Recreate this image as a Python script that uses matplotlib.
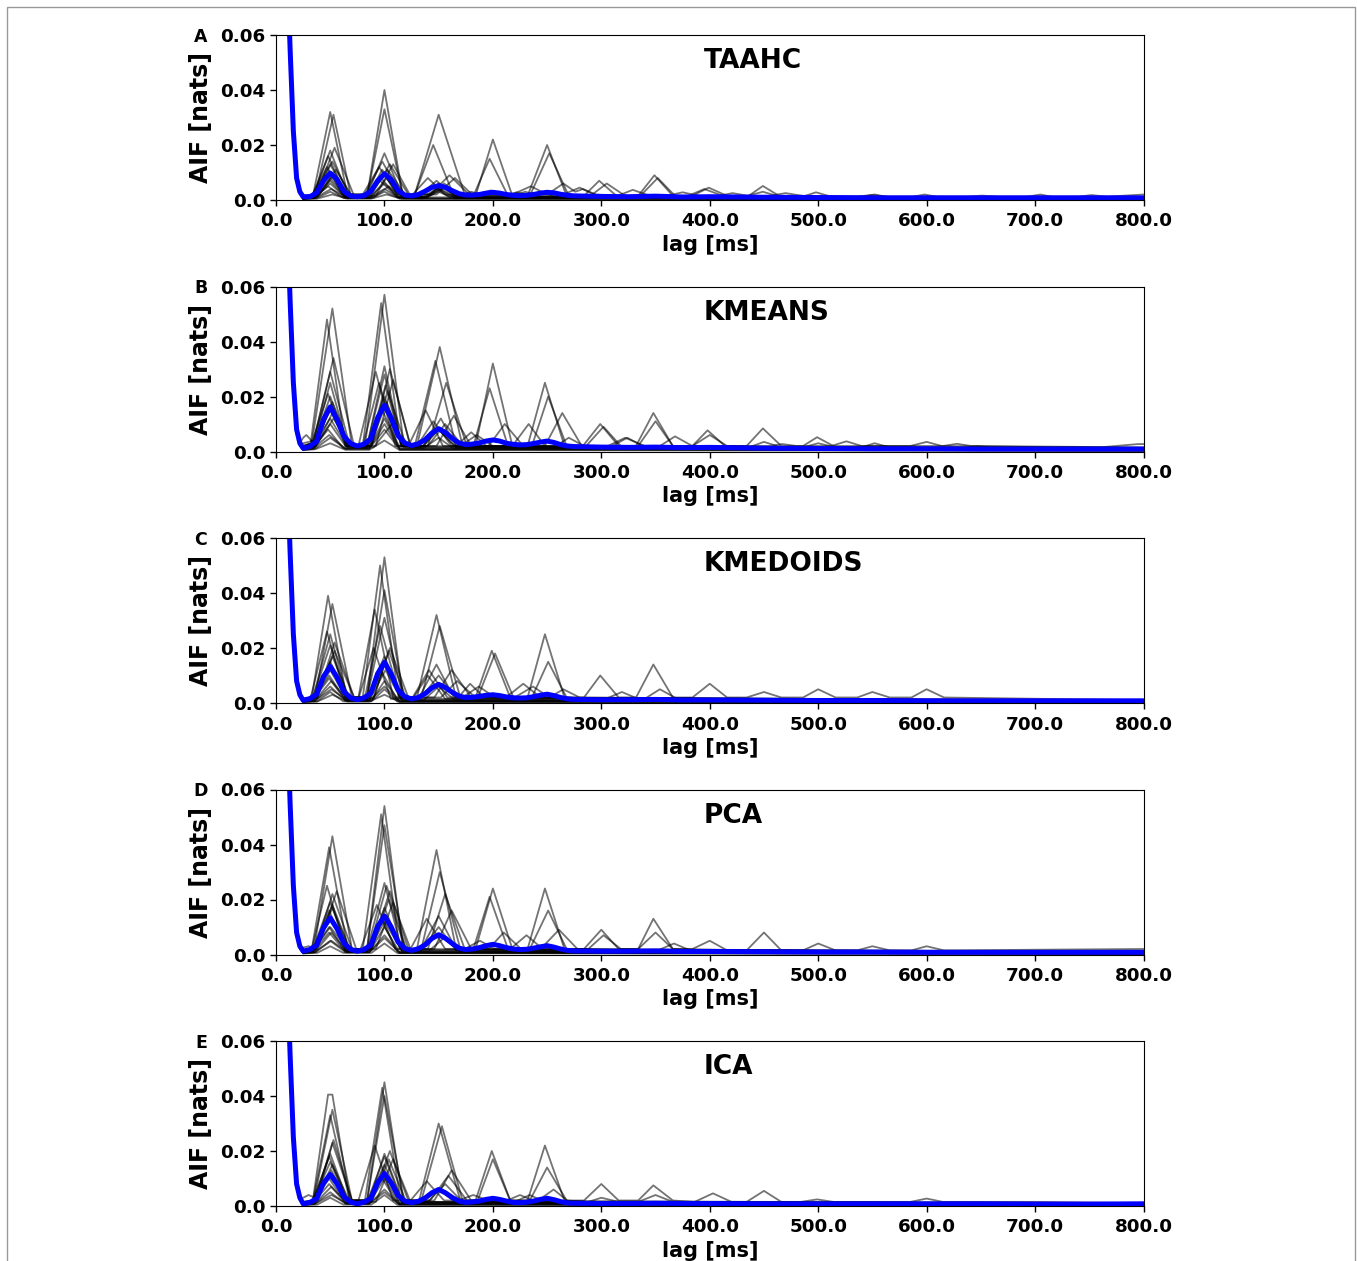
import numpy as np
import matplotlib
matplotlib.use('Agg')
import matplotlib.pyplot as plt
from matplotlib.patches import Rectangle
from matplotlib.ticker import FuncFormatter

plt.rcParams.update({
    'font.family': 'DejaVu Sans',
    'font.weight': 'bold',
    'axes.labelweight': 'bold',
})

# all curves are "lag_ms:value" vertices, value in 1e-3 nats
HEAD = "0:500 10:90 13:55 16:25 19:8 22:3"

A_LINES = [
    "25:1 34:1.5 50:32 66:1.5 84:1.5 100:40 117:1.5 128:2 150:31 174:2 184:1.5 200:22 218:1.5 232:1.5 250:20 268:1.5 284:1.5 298:7 314:1.5 334:1.5 349:9 366:1.5 380:1.5 395:4 412:1.5 430:1 449:3 466:1 800:0.8",
    "25:1 36:1.5 53:31 69:1.5 84:1.5 100:33 117:1.5 128:2 145:20 164:1.5 182:1.5 197:15 214:1.5 234:1.5 252:17 270:1.5 290:1.5 305:6 322:1.5 336:1.5 352:8 368:1.5 384:1.5 399:4.5 416:1.5 434:1 449:5.1 466:1 484:1 498:2.8 514:1 800:1",
    "25:1.5 37:2 54:19 72:1.5 88:2 105:13 122:2 142:2 160:9 178:2 218:2 235:5 250:2 265:6 276:3 283:4 295:2 315:1.5 329:3.7 345:1.5 360:1.5 375:2.8 390:1.5 408:1.5 421:2.5 436:1.5 455:1.5 470:2.5 486:1.5 535:1.2 549:1.8 565:1.2 637:1.2 651:1.6 668:1.2 740:1.2 752:1.8 766:1.2 800:2",
    "25:1.2 35:2 50:18 66:2 80:2 95:12 112:2 126:2 140:8 156:2 168:1.5 180:3 192:1.5 210:1.5 222:2.8 236:1.5 262:1.5 280:4.5 296:1.5 540:1.2 552:2 565:1 585:1 598:2 612:1 690:1 705:2 718:1 800:1",
    "25:1 34:2 48:16 64:2 84:2 100:17 116:2 134:1.5 150:6 166:1.5 186:1.5 200:3 214:1.2 800:0.6",
    "25:1 36:2 52:14 68:2 82:2 98:14 115:2 148:2 165:8 182:1.5 218:1.5 230:3 244:1.2 800:0.6",
    "25:0.8 34:1.5 50:13 66:1.5 86:1.5 103:11 120:1.5 132:1.5 148:7 164:1.5 186:1.5 198:3.5 212:1.2 232:1.2 245:3 258:1 800:0.5",
    "25:0.8 33:1.5 47:12 62:1.5 84:1.5 100:10 116:1.5 136:1.2 152:5 168:1 800:0.4",
    "25:0.6 39:1.5 55:11 70:1.5 92:1.5 108:13 124:1.5 139:1 155:6 172:1 800:0.4",
    "25:0.6 35:1 50:8 65:1 83:1 97:8 112:1 130:1 145:5 160:1 800:0.3",
    "25:0.5 36:1 50:7 64:1 86:1 100:6 114:1 136:0.8 150:4 165:0.8 800:0.3",
    "25:0.5 35:0.8 48:5 62:0.8 86:0.8 100:4 114:0.8 136:0.6 150:3 164:0.6 800:0.2",
    "25:0.4 37:0.6 50:3 64:0.6 87:0.6 100:3 114:0.5 800:0.2",
    "25:0.3 38:0.5 52:2 66:0.5 88:0.5 102:2 116:0.4 800:0.2",
    "25:0.5 36:1 50:6 64:1 80:1 96:7 112:1 138:1 152:4 166:0.8 800:0.3",
    "25:0.7 38:1 53:9 68:1 84:1 98:11 113:1 140:1 156:5 172:1 800:0.4",
    "25:0.4 36:0.8 51:4 66:0.8 90:0.8 104:5 118:0.6 800:0.3",
    "25:0.6 36:1 50:10 64:1 88:1 102:8 116:1 800:0.4",
]
A_MEAN = ("0:500 10:90 13:55 16:25 19:8 22:3 25:1.2 31.25:1.2 37.5:2.6 43.75:7.0 50:9.8 56.25:7.5 62.5:3.2 68.75:1.5 "
          "75:1.2 81.25:1.6 87.5:3.2 93.75:7.0 100:9.5 106.25:7.4 112.5:3.5 118.75:1.8 125:1.5 131.25:2.0 137.5:3.2 "
          "143.75:4.6 150:5.2 156.25:4.6 162.5:3.4 168.75:2.3 175:1.8 181.25:1.8 187.5:2.0 193.75:2.5 200:2.8 206.25:2.5 "
          "212.5:2.0 218.75:1.7 225:1.6 231.25:1.7 237.5:2.0 243.75:2.5 250:2.8 256.25:2.6 262.5:2.1 268.75:1.7 275:1.5 "
          "300:1.3 325:1.2 350:1.4 375:1.1 400:1.2 450:1.0 500:0.9 550:0.8 600:0.8 650:0.8 700:0.8 750:0.8 800:0.8")

B_LINES = [
    "25:2 33:3 52:52 70:2 82:2 100:57 118:2 130:2 151:38 172:2 184:2 200:32 218:2 232:2 248:25 266:2 283:2 299:10 316:2 332:2 348:14 366:2 384:2 398:7.7 414:2 434:2 449:8.4 466:2 486:2 499:5.2 514:2 585:2 600:3.5 614:2 800:1.2",
    "25:2 32:3 47:48 64:2 80:2 97:54 115:2 128:2 147:33 166:2 182:2 197:23 214:2 236:2 251:20 268:2 286:2 302:9 318:2 334:2 350:11 366:2 384:2 400:6 416:2 436:1.5 450:3.5 466:1.5 486:1.5 500:3 516:1.5 800:1",
    "25:3 35:4 53:34 72:2 88:2 105:30 124:2 140:2 157:25 176:2 196:2 211:10 228:2 248:2 264:14 282:2 306:2 322:5 340:2 354:2 368:5.5 384:2 455:2 467:2.7 480:2 512:2 526:3.7 540:2 615:2 628:2.8 641:2 800:1.5",
    "25:2 34:3 50:29 68:2 76:2 92:29 110:2 122:2 138:15 154:2 170:2 185:6 200:2 218:2 233:10 248:2 258:2 270:5 284:2 310:2 324:5 338:2 540:1.5 552:3 566:1.5 635:1.5 647:1.9 660:1.5 720:1.5 736:1.6 760:1.5 795:2.7 800:2.7",
    "25:1.5 35:3 50:25 66:2 84:2 100:31 116:2 136:2 152:12 166:2 180:7 194:2 800:1",
    "25:1.5 33:3 48:21 64:2 84:2 100:28 116:2 148:2 164:13 180:2 800:1",
    "25:1.2 34:2 50:20 66:2 80:2 95:25 112:2 130:2 145:11 162:2 800:0.8",
    "25:1.2 36:2 52:18 68:2 88:2 103:22 120:2 136:2 150:8 166:1.5 800:0.8",
    "25:1 34:2 50:15 66:2 84:2 100:20 116:2 134:1.5 150:8 166:1.5 800:0.6",
    "25:1 36:1.5 53:12 70:1.5 86:1.5 102:18 118:1.5 800:0.6",
    "25:0.8 35:1.5 50:10 65:1.5 84:1.5 98:15 114:1.5 136:1.2 150:5 164:1 800:0.5",
    "25:0.8 34:1.2 48:8 62:1.2 86:1.2 100:12 114:1 800:0.4",
    "25:0.6 36:1 50:5 64:1 86:1 100:8 114:0.8 800:0.3",
    "25:0.5 36:0.8 50:3 64:0.6 86:0.6 100:4 114:0.5 800:0.2",
    "25:5 28:6 35:3 50:12 66:1.5 90:1.5 107:10 124:1.5 800:0.5",
    "25:1 36:2 51:17 66:2 86:2 101:24 116:2 140:2 156:10 172:2 800:0.8",
    "25:0.6 34:1 49:6 64:1 86:1 100:10 114:0.8 800:0.4",
    "25:1 37:2 52:14 68:2 92:2 108:26 124:2 800:0.6",
]
B_MEAN = ("0:500 10:90 13:55 16:25 19:8 22:3 25:1.2 31.25:1.8 37.5:3.7 43.75:11.6 50:16.2 56.25:11.7 62.5:5.6 68.75:2.9 "
          "75:2.0 81.25:2.7 87.5:4.7 93.75:12.3 100:16.8 106.25:12.2 112.5:5.8 118.75:3.1 125:2.2 131.25:2.8 137.5:4.3 "
          "143.75:6.7 150:8.3 156.25:6.9 162.5:4.8 168.75:3.1 175:2.5 181.25:2.7 187.5:3.1 193.75:3.8 200:4.2 206.25:3.8 "
          "212.5:3.0 218.75:2.6 225:2.4 231.25:2.5 237.5:2.9 243.75:3.4 250:3.8 256.25:3.3 262.5:2.5 268.75:2.0 275:1.8 "
          "300:1.6 325:1.5 350:1.6 375:1.4 400:1.5 450:1.2 500:1.1 550:1.0 600:1.0 650:0.9 700:0.9 750:0.9 800:0.9")

C_LINES = [
    "25:1.5 33:2 48:39 65:2 80:2 96:50 113:2 130:2 148:32 166:2 184:2 199:19 216:2 232:2 248:25 266:2 284:2 299:10 316:2 332:2 348:14 366:2 384:2 400:7 416:2 434:2 450:4 466:2 486:2 500:5 516:2 536:2 550:4 566:2 586:2 600:5 616:2 800:1",
    "25:1.5 36:2 52:36 70:2 84:2 100:53 117:2 134:2 151:28 170:2 186:2 202:18 219:2 236:2 251:15 268:2 304:1.5 319:4 334:1.5 340:1.5 354:5 370:1.5 800:1",
    "25:1.2 32:2 47:26 64:2 76:2 91:34 108:2 126:2 141:12 158:2 168:2 179:7 192:2 212:2 228:7 244:2 800:0.8",
    "25:1.5 38:2 54:22 72:2 84:2 100:41 118:2 146:2 162:12 180:2 800:0.8",
    "25:1.2 34:2 50:25 66:2 84:2 100:31 117:2 132:2 148:14 164:2 172:2 187:6 202:2 220:2 237:6 252:2 265:5 280:2 800:0.8",
    "25:1 34:2 50:21 66:2 82:2 96:28 114:2 134:2 150:10 166:2 800:0.7",
    "25:1 38:2 54:19 72:2 90:2 105:20 122:2 152:2 167:8 184:2 800:0.7",
    "25:1 34:1.5 50:15 66:1.5 76:1.5 90:20 106:1.5 126:1.5 140:10 156:1.5 800:0.6",
    "25:0.8 35:1.5 50:12 65:1.5 84:1.5 100:17 116:1.5 136:1 150:6 165:1 800:0.5",
    "25:0.8 34:1.2 49:10 64:1.2 86:1.2 100:15 116:1 800:0.4",
    "25:0.6 36:1 51:8 66:1 86:1 101:12 116:0.8 800:0.4",
    "25:0.5 36:0.8 50:6 64:0.8 88:0.8 100:8 114:0.6 800:0.3",
    "25:0.4 38:0.6 50:4 62:0.6 88:0.6 100:5 112:0.5 800:0.2",
    "25:0.3 38:0.5 52:3 66:0.5 86:0.5 100:3 114:0.4 800:0.2",
    "25:0.8 36:1.5 52:17 68:1.5 90:1.5 104:19 120:1.5 800:0.6",
    "25:0.6 34:1 49:9 64:1 84:1 98:11 112:1 800:0.4",
    "25:0.4 36:0.8 51:5 66:0.8 86:0.8 100:6 114:0.5 800:0.3",
]
C_MEAN = ("0:500 10:90 13:55 16:25 19:8 22:3 25:1.0 31.25:1.6 37.5:3.2 43.75:9.6 50:13.3 56.25:9.4 62.5:4.2 68.75:1.9 "
          "75:1.2 81.25:1.9 87.5:3.6 93.75:10.7 100:14.8 106.25:10.5 112.5:4.8 118.75:2.3 125:1.5 131.25:2.0 137.5:3.4 "
          "143.75:5.5 150:6.8 156.25:5.6 162.5:3.9 168.75:2.5 175:2.0 181.25:2.1 187.5:2.4 193.75:2.8 200:3.0 206.25:2.7 "
          "212.5:2.2 218.75:1.9 225:1.8 231.25:1.9 237.5:2.3 243.75:2.8 250:3.2 256.25:2.7 262.5:2.0 268.75:1.5 275:1.3 "
          "300:1.2 325:1.2 350:1.3 375:1.1 400:1.1 450:1.0 500:0.9 550:0.9 600:0.8 650:0.8 700:0.8 750:0.8 800:0.8")

D_LINES = [
    "25:1.5 35:2 52:43 70:2 84:2 100:54 117:2 130:2 148:38 166:2 184:2 200:24 218:2 232:2 248:24 266:2 284:2 300:9 316:2 334:2 348:13 366:2 434:1.5 450:8 466:1.5 486:1.5 500:4 516:1.5 536:1.5 550:3 566:1.5 586:1.5 600:3 616:1.5 800:2",
    "25:1.5 33:2 49:39 66:2 80:2 97:51 114:2 134:2 151:30 170:2 182:2 197:21 214:2 234:2 251:16 268:2 288:2 302:7 318:2 334:2 350:8 366:2 384:2 400:5 416:1.5 800:1",
    "25:1.2 33:2 47:25 64:2 84:2 100:47 118:2 124:2 139:13 156:2 174:2 188:5 202:2 216:2 231:7 246:2 800:1",
    "25:1.2 38:2 56:23 74:2 86:2 102:25 120:2 140:2 156:22 174:2 196:2 210:8 226:2 244:2 261:9 278:2 352:1.5 367:4 382:1.5 800:1",
    "25:1 36:2 52:22 70:2 88:2 105:23 122:2 146:2 162:16 180:2 800:0.8",
    "25:1 34:2 50:19 66:2 78:2 93:18 110:2 134:2 150:14 166:2 800:0.8",
    "25:1 36:2 52:18 68:2 92:2 108:19 124:2 800:0.7",
    "25:1 34:1.5 49:16 64:1.5 84:1.5 100:26 116:1.5 134:1.5 150:10 166:1.5 800:0.6",
    "25:0.8 35:1.5 50:13 66:1.5 86:1.5 100:17 116:1.5 140:1 155:6 170:1 800:0.5",
    "25:0.8 34:1.2 49:10 64:1.2 84:1.2 100:14 116:1 800:0.4",
    "25:0.6 36:1 51:8 66:1 86:1 100:10 114:0.8 800:0.4",
    "25:0.5 36:0.8 50:5 64:0.8 86:0.8 100:6 114:0.6 800:0.3",
    "25:0.4 38:0.6 50:3 62:0.6 88:0.6 100:4 112:0.5 800:0.2",
    "25:2.5 30:3 36:2.5 50:10 66:2 86:2 100:12 116:1.5 800:0.5",
    "25:0.8 36:1.5 52:17 68:1.5 88:1.5 104:20 120:1.5 800:0.6",
    "25:0.6 34:1 49:8 64:1 84:1 98:12 112:1 800:0.4",
    "25:0.4 36:0.8 51:5 66:0.8 86:0.8 100:7 114:0.5 800:0.3",
]
D_MEAN = ("0:500 10:90 13:55 16:25 19:8 22:3 25:1.2 31.25:1.8 37.5:3.4 43.75:9.7 50:13.3 56.25:9.4 62.5:4.2 68.75:1.9 "
          "75:1.2 81.25:1.8 87.5:3.5 93.75:10.2 100:14.0 106.25:10.0 112.5:4.6 118.75:2.2 125:1.5 131.25:2.1 137.5:3.5 "
          "143.75:5.8 150:7.2 156.25:5.9 162.5:4.0 168.75:2.3 175:1.8 181.25:2.0 187.5:2.5 193.75:3.2 200:3.7 206.25:3.2 "
          "212.5:2.5 218.75:2.0 225:1.8 231.25:1.9 237.5:2.3 243.75:2.8 250:3.2 256.25:2.7 262.5:2.0 268.75:1.5 275:1.3 "
          "300:1.2 325:1.2 350:1.3 375:1.1 400:1.1 450:1.0 500:0.9 550:0.9 600:0.8 650:0.8 700:0.8 750:0.8 800:0.8")

E_LINES = [
    "25:1.5 34:2 48:40.5 52:40.5 68:2 84:2 100:45 117:2 132:2 150:30 170:2 184:2 199:20 216:2 232:2 248:22 266:2 284:2 300:8 316:2 334:2 348:7.5 366:2 386:1.5 403:4.6 420:1.5 434:1.5 450:5.5 466:1.5 800:1",
    "25:1.5 35:2 52:35 70:2 82:2 98:43 115:2 134:2 153:29 172:2 186:2 200:17 216:2 234:2 250:14 268:2 288:1.5 300:3 316:1.5 334:1.5 350:4 366:1.5 484:1.5 499:2.4 514:1.5 585:1.5 600:2.7 615:1.5 685:1.5 700:1.5 800:1",
    "25:1.2 34:2 50:33 68:2 84:2 100:40 118:2 140:1.5 156:8 172:1.5 800:0.8",
    "25:1.2 37:2 53:24 70:2 76:2 91:22 108:2 124:2 139:9 155:2 168:2 182:4 196:2 210:1.5 225:4 240:1.5 256:6 270:1.5 800:0.8",
    "25:1 36:2 52:23 70:2 88:2 105:20 122:2 146:2 162:13 180:2 800:0.8",
    "25:1 34:2 50:19 66:2 86:2 100:19 116:2 142:2 159:11 176:2 220:1.5 234:4 248:1.5 800:0.7",
    "25:1 34:1.5 49:18 66:1.5 92:1.5 108:17 124:1.5 800:0.6",
    "25:0.8 34:1.5 50:16 66:1.5 84:1.5 100:18 116:1.5 134:1.2 150:6 166:1.2 800:0.5",
    "25:0.8 36:1.5 51:13 66:1.5 84:1.5 100:15 116:1.2 800:0.5",
    "25:0.6 34:1.2 49:10 64:1.2 86:1.2 100:13 114:1 800:0.4",
    "25:0.5 36:1 51:7 66:1 86:1 100:10 114:0.8 800:0.3",
    "25:0.4 36:0.8 50:5 64:0.8 86:0.8 100:6 114:0.6 800:0.3",
    "25:3 30:4 36:3 50:12 66:2 86:2 100:12 116:1.5 800:0.5",
    "25:0.3 38:0.5 50:3 62:0.5 88:0.5 100:4 112:0.4 800:0.2",
    "25:0.8 36:1.5 52:15 68:1.5 88:1.5 104:17 120:1.5 800:0.6",
    "25:0.6 34:1 49:8 64:1 84:1 98:10 112:1 800:0.4",
    "25:0.4 36:0.8 51:4 66:0.8 86:0.8 100:5 114:0.5 800:0.3",
]
E_MEAN = ("0:500 10:90 13:55 16:25 19:8 22:3 25:0.8 31.25:1.3 37.5:2.7 43.75:8.3 50:11.5 56.25:8.1 62.5:3.5 68.75:1.4 "
          "75:0.8 81.25:1.4 87.5:2.8 93.75:8.5 100:11.8 106.25:8.4 112.5:3.9 118.75:1.8 125:1.2 131.25:1.7 137.5:2.9 "
          "143.75:4.8 150:6.0 156.25:4.8 162.5:3.1 168.75:1.8 175:1.3 181.25:1.5 187.5:1.8 193.75:2.4 200:2.8 206.25:2.4 "
          "212.5:1.8 218.75:1.3 225:1.2 231.25:1.4 237.5:1.8 243.75:2.4 250:2.8 256.25:2.3 262.5:1.6 268.75:1.1 275:1.0 "
          "300:0.9 325:0.9 350:1.0 375:0.9 400:0.9 450:0.8 500:0.8 550:0.8 600:0.8 650:0.8 700:0.7 750:0.7 800:0.8")

LETTERS = ['A', 'B', 'C', 'D', 'E']
METHODS = ['TAAHC', 'KMEANS', 'KMEDOIDS', 'PCA', 'ICA']
ALL_LINES = [A_LINES, B_LINES, C_LINES, D_LINES, E_LINES]
ALL_MEANS = [A_MEAN, B_MEAN, C_MEAN, D_MEAN, E_MEAN]
XTICKS = [0, 100, 200, 300, 400, 500, 600, 700, 800]
YTICKS = [0.0, 0.02, 0.04, 0.06]


def parse(s):
    pts = [p.split(':') for p in s.split()]
    lag = np.array([float(a) for a, _ in pts])
    val = np.array([float(b) for _, b in pts]) * 1e-3
    return lag, val


W, H = 1357, 1261
fig = plt.figure(figsize=(W / 100, H / 100), dpi=100)

# thin frame around the figure (top/left/right edges only visible)
fig.patches.append(Rectangle((7 / W, -0.05), 1348 / W, 1.05 - 7 / H,
                             transform=fig.transFigure, fill=False,
                             edgecolor='0.6', lw=1.0))

for i in range(5):
    top = 35 + 251.5 * i
    ax = fig.add_axes([276 / W, 1 - (top + 165) / H, 867.5 / W, 165 / H])

    for s in ALL_LINES[i]:
        lag, val = parse(HEAD + ' ' + s)
        ax.plot(lag, val, color='black', alpha=0.55, lw=1.3)
    lag, val = parse(ALL_MEANS[i])
    ax.plot(lag, val, color='#0000ff', lw=3.6, solid_capstyle='round',
            solid_joinstyle='round')

    ax.set_xlim(0, 800)
    ax.set_ylim(0, 0.06)
    ax.set_xticks(XTICKS)
    ax.set_yticks(YTICKS)
    ax.xaxis.set_major_formatter(FuncFormatter(lambda v, p: '%.1f' % v))
    ax.yaxis.set_major_formatter(FuncFormatter(lambda v, p: '0.0' if v == 0 else '%.2f' % v))
    ax.tick_params(labelsize=13.2, length=4, width=1)
    ax.tick_params(axis='x', pad=5)
    for lab in ax.get_xticklabels() + ax.get_yticklabels():
        lab.set_fontweight('bold')
    ax.set_xlabel('lag [ms]', fontsize=15, fontweight='bold', labelpad=3)
    ax.set_ylabel('AIF [nats]', fontsize=17, fontweight='bold', labelpad=5)
    ax.text(0.493, 0.798, METHODS[i], transform=ax.transAxes, ha='left',
            va='baseline', fontsize=19, fontweight='bold')
    ax.text(-0.0865, 0.99, LETTERS[i], transform=ax.transAxes, ha='center',
            va='center', fontsize=12.5, fontweight='bold')

fig.savefig('out.png', dpi=100)
